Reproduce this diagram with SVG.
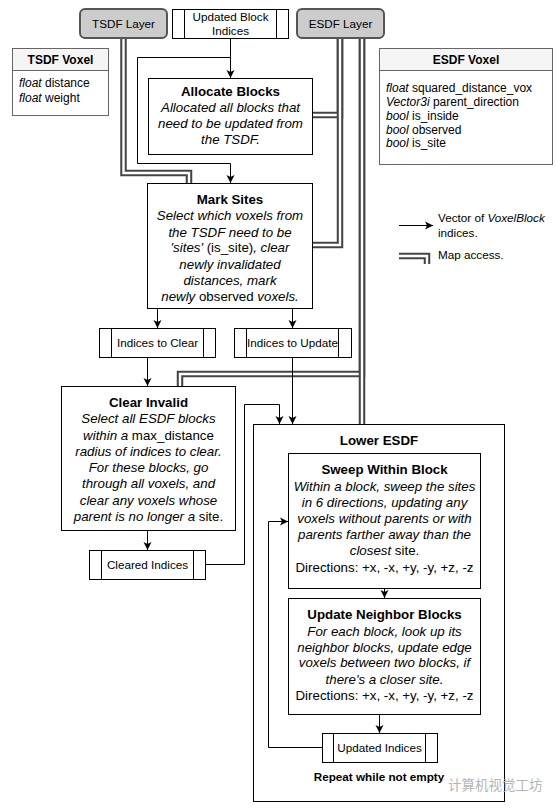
<svg xmlns="http://www.w3.org/2000/svg" width="556" height="810" viewBox="0 0 556 810">
<style>
text{font-family:"Liberation Sans",Arial,sans-serif;fill:#000}
.t{font-size:13.3px;text-anchor:middle}
.s{font-size:11.7px;text-anchor:middle}
.lg{font-size:11.7px;text-anchor:start}
.v{font-size:12px}
.b{font-weight:bold}
.i{font-style:italic}
.n{font-style:normal}
.box{fill:#fff;stroke:#000;stroke-width:1}
.layer{fill:#ccc;stroke:#555;stroke-width:2}
.vox{fill:#fff;stroke:#666;stroke-width:1}
.hdr{fill:#f5f5f5;stroke:#666;stroke-width:1}
.e{fill:none;stroke:#000;stroke-width:1}
.lo{fill:none;stroke:#444;stroke-width:6.5}
.li{fill:none;stroke:#fff;stroke-width:2.4}
</style>
<defs>
<marker id="ar" markerUnits="userSpaceOnUse" markerWidth="10" markerHeight="10" viewBox="0 0 10 10" refX="9" refY="5" orient="auto">
<path d="M1,1 L9,5 L1,9 L3,5 z" fill="#000"/>
</marker>
</defs>

<g id="lower-esdf">
<rect class="box" x="253.5" y="424.5" width="251" height="377"/>
<text class="t b" x="379" y="444.7">Lower ESDF</text>
<text class="s b" x="379" y="780.5">Repeat while not empty</text>
</g>

<g id="tsdf-voxel">
<rect class="vox" x="12.5" y="48.5" width="96" height="67"/>
<rect class="hdr" x="12.5" y="48.5" width="96" height="22"/>
<text class="v b" x="60.5" y="64" text-anchor="middle">TSDF Voxel</text>
<text class="v" x="19" y="87"><tspan class="i">float</tspan> distance</text>
<text class="v" x="19" y="102"><tspan class="i">float</tspan> weight</text>
</g>

<g id="esdf-voxel">
<rect class="vox" x="379.5" y="48.5" width="173" height="116"/>
<rect class="hdr" x="379.5" y="48.5" width="173" height="22"/>
<text class="v b" x="466" y="64" text-anchor="middle">ESDF Voxel</text>
<text class="v" x="386" y="92"><tspan class="i">float</tspan> squared_distance_vox</text>
<text class="v" x="386" y="106"><tspan class="i">Vector3i</tspan> parent_direction</text>
<text class="v" x="386" y="120"><tspan class="i">bool</tspan> is_inside</text>
<text class="v" x="386" y="134"><tspan class="i">bool</tspan> observed</text>
<text class="v" x="386" y="147"><tspan class="i">bool</tspan> is_site</text>
</g>

<g id="links">
<path class="lo" d="M123.5 38 V173 H189 V183"/>
<path class="li" d="M123.5 38 V173 H189 V183"/>
<path class="lo" d="M340 38 V115 H312.5"/>
<path class="li" d="M340 38 V115 H312.5"/>
<path class="lo" d="M340 38 V245 H312.5"/>
<path class="li" d="M340 38 V245 H312.5"/>
<path class="lo" d="M362 38 V374 H180 V386"/>
<path class="li" d="M362 38 V374 H180 V386"/>
<path class="lo" d="M362 38 V424"/>
<path class="li" d="M362 38 V424"/>
<path class="lo" d="M399 256 H427 V264"/>
<path class="li" d="M399 256 H427 V264"/>
</g>

<g id="connectors">
<path class="e" d="M230.5 38.5 V78" marker-end="url(#ar)"/>
<path class="e" d="M230.5 57.5 H137.5 V163.5 H230.5 V183" marker-end="url(#ar)"/>
<path class="e" d="M157.5 308.5 V328" marker-end="url(#ar)"/>
<path class="e" d="M292.5 308.5 V328" marker-end="url(#ar)"/>
<path class="e" d="M147.5 357.5 V386" marker-end="url(#ar)"/>
<path class="e" d="M292.5 357.5 V424" marker-end="url(#ar)"/>
<path class="e" d="M147.5 530.5 V550" marker-end="url(#ar)"/>
<path class="e" d="M205.5 564.5 H244.5 V404.5 H279.5 V424" marker-end="url(#ar)"/>
<path class="e" d="M384.5 588.5 V598" marker-end="url(#ar)"/>
<path class="e" d="M379.5 714.5 V733" marker-end="url(#ar)"/>
<path class="e" d="M322.5 747.5 H268.5 V521.5 H288" marker-end="url(#ar)"/>
<path class="e" d="M399 225.5 H433" marker-end="url(#ar)"/>
</g>

<g id="tsdf-layer">
<rect class="layer" x="80" y="9" width="87" height="29" rx="5"/>
<text class="s" x="123.5" y="27.5">TSDF Layer</text>
</g>

<g id="updated-block-indices">
<rect class="box" x="172.5" y="9.5" width="116" height="29"/>
<path class="e" d="M184.5 9.5 V38.5 M276.5 9.5 V38.5"/>
<text class="s" x="230.5" y="21">Updated Block</text>
<text class="s" x="230.5" y="35">Indices</text>
</g>

<g id="esdf-layer">
<rect class="layer" x="297" y="9" width="87" height="29" rx="5"/>
<text class="s" x="340.5" y="27.5">ESDF Layer</text>
</g>

<g id="allocate-blocks">
<rect class="box" x="148.5" y="78.5" width="164" height="76"/>
<text class="t b" x="230.5" y="96">Allocate Blocks</text>
<text class="t i" x="230.5" y="112">Allocated all blocks that</text>
<text class="t i" x="230.5" y="128">need to be updated from</text>
<text class="t i" x="230.5" y="144">the TSDF.</text>
</g>

<g id="mark-sites">
<rect class="box" x="147.5" y="183.5" width="165" height="125"/>
<text class="t b" x="230" y="204">Mark Sites</text>
<text class="t i" x="230" y="220">Select which voxels from</text>
<text class="t i" x="230" y="236.5">the TSDF need to be</text>
<text class="t i" x="230" y="252">'sites'<tspan class="n"> (is_site)</tspan>, clear</text>
<text class="t i" x="230" y="268.7">newly invalidated</text>
<text class="t i" x="230" y="285">distances, mark</text>
<text class="t i" x="230" y="301.4">newly<tspan class="n"> observed</tspan> voxels.</text>
</g>

<g id="indices-to-clear">
<rect class="box" x="99.5" y="328.5" width="116" height="29"/>
<path class="e" d="M111.5 328.5 V357.5 M203.5 328.5 V357.5"/>
<text class="s" x="157.5" y="346.5">Indices to Clear</text>
</g>

<g id="indices-to-update">
<rect class="box" x="234.5" y="328.5" width="117" height="29"/>
<path class="e" d="M246.5 328.5 V357.5 M338.5 328.5 V357.5"/>
<text class="s" x="292.5" y="346.5">Indices to Update</text>
</g>

<g id="clear-invalid">
<rect class="box" x="61.5" y="386.5" width="174" height="144"/>
<text class="t b" x="148.5" y="407">Clear Invalid</text>
<text class="t i" x="148.5" y="423.2">Select all ESDF blocks</text>
<text class="t i" x="148.5" y="439.5">within a<tspan class="n"> max_distance</tspan></text>
<text class="t i" x="148.5" y="455.8">radius of indices to clear.</text>
<text class="t i" x="148.5" y="472.1">For these blocks, go</text>
<text class="t i" x="148.5" y="488.4">through all voxels, and</text>
<text class="t i" x="148.5" y="504.7">clear any voxels whose</text>
<text class="t i" x="148.5" y="521">parent is no longer a<tspan class="n"> site.</tspan></text>
</g>

<g id="cleared-indices">
<rect class="box" x="89.5" y="550.5" width="116" height="29"/>
<path class="e" d="M101.5 550.5 V579.5 M193.5 550.5 V579.5"/>
<text class="s" x="147.5" y="568.5">Cleared Indices</text>
</g>

<g id="sweep-within-block">
<rect class="box" x="288.5" y="453.5" width="192" height="135"/>
<text class="t b" x="384.5" y="474">Sweep Within Block</text>
<text class="t i" x="384.5" y="491.2">Within a block, sweep the sites</text>
<text class="t i" x="384.5" y="507">in 6 directions, updating any</text>
<text class="t i" x="384.5" y="523">voxels without parents or with</text>
<text class="t i" x="384.5" y="539">parents farther away than the</text>
<text class="t i" x="384.5" y="555.3">closest<tspan class="n"> site.</tspan></text>
<text class="t" x="384.5" y="572.3">Directions: +x, -x, +y, -y, +z, -z</text>
</g>

<g id="update-neighbor-blocks">
<rect class="box" x="288.5" y="598.5" width="192" height="116"/>
<text class="t b" x="384.5" y="618.7">Update Neighbor Blocks</text>
<text class="t i" x="384.5" y="636.3">For each block, look up its</text>
<text class="t i" x="384.5" y="652">neighbor blocks, update edge</text>
<text class="t i" x="384.5" y="667">voxels between two blocks, if</text>
<text class="t i" x="384.5" y="684">there's a closer site.</text>
<text class="t" x="384.5" y="700.4">Directions: +x, -x, +y, -y, +z, -z</text>
</g>

<g id="updated-indices">
<rect class="box" x="322.5" y="733.5" width="115" height="29"/>
<path class="e" d="M333.5 733.5 V762.5 M425.5 733.5 V762.5"/>
<text class="s" x="379.5" y="751.5">Updated Indices</text>
</g>

<g id="legend">
<text class="lg" x="438" y="222">Vector of <tspan class="i">VoxelBlock</tspan></text>
<text class="lg" x="438" y="237">indices.</text>
<text class="lg" x="438" y="259">Map access.</text>
</g>

<text x="448" y="790" style="font-family:'Noto Sans CJK SC',sans-serif;font-size:13.5px;fill:#b5b5b5">计算机视觉工坊</text>
</svg>
